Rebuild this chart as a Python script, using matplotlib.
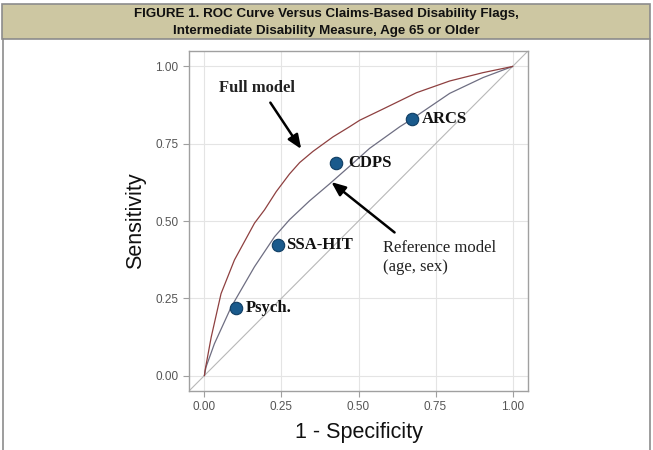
import matplotlib
matplotlib.use("Agg")
import matplotlib.pyplot as plt
from matplotlib.patches import Rectangle
from matplotlib.lines import Line2D

# ---- data ----
full_fpr = [0, 0.002, 0.022, 0.054, 0.0975, 0.1625, 0.195, 0.233, 0.276, 0.309, 0.352,
            0.417, 0.471, 0.504, 0.579, 0.688, 0.796, 0.904, 1.0]
full_tpr = [0, 0.016, 0.124, 0.265, 0.374, 0.493, 0.536, 0.595, 0.652, 0.689, 0.725,
            0.772, 0.805, 0.826, 0.862, 0.915, 0.953, 0.98, 1.0]
ref_fpr = [0, 0.005, 0.0325, 0.087, 0.1625, 0.2275, 0.276, 0.341, 0.406, 0.471, 0.536,
           0.634, 0.672, 0.796, 0.904, 1.0]
ref_tpr = [0, 0.027, 0.103, 0.222, 0.352, 0.449, 0.504, 0.565, 0.620, 0.677, 0.735,
           0.805, 0.829, 0.913, 0.964, 1.0]
flag_names = ["ARCS", "CDPS", "SSA-HIT", "Psych."]
flag_fpr = [0.672, 0.426, 0.238, 0.103]
flag_tpr = [0.829, 0.688, 0.421, 0.22]
ticks = [0.0, 0.25, 0.5, 0.75, 1.0]
tick_labels = ["0.00", "0.25", "0.50", "0.75", "1.00"]

W, H = 653, 450
fig = plt.figure(figsize=(W / 100, H / 100), dpi=100)
fig.patch.set_facecolor("white")

def fx(px):
    return px / W

def fy(py):
    return 1 - py / H

border = "#8c8c8c"
# header band
fig.patches.append(Rectangle((fx(2), fy(39)), fx(648), 35 / H, transform=fig.transFigure,
                             facecolor="#cdc7a2", edgecolor=border, linewidth=1.2, zorder=0))
# body side borders
fig.add_artist(Line2D([fx(2.5), fx(2.5)], [0, fy(39)], transform=fig.transFigure,
                      color=border, linewidth=1.2))
fig.add_artist(Line2D([fx(650), fx(650)], [0, fy(39)], transform=fig.transFigure,
                      color=border, linewidth=1.2))

fig.text(0.5, fy(14), "FIGURE 1. ROC Curve Versus Claims-Based Disability Flags,",
         ha="center", va="center", fontsize=9.6, fontweight="bold",
         family="Liberation Sans", color="#111111")
fig.text(0.5, fy(31), "Intermediate Disability Measure, Age 65 or Older",
         ha="center", va="center", fontsize=9.6, fontweight="bold",
         family="Liberation Sans", color="#111111")

ax = fig.add_axes([fx(189), fy(391), fx(528) - fx(189), (391 - 51) / H])
ax.set_xlim(-0.05, 1.05)
ax.set_ylim(-0.05, 1.05)
ax.set_facecolor("white")
for s in ax.spines.values():
    s.set_color("#a0a0a0")
    s.set_linewidth(1.0)
ax.set_xticks(ticks)
ax.set_yticks(ticks)
ax.set_xticklabels(tick_labels)
ax.set_yticklabels(tick_labels)
ax.tick_params(colors="#a0a0a0", labelcolor="#555555", labelsize=8.5, length=4, width=0.8)
for lab in ax.get_xticklabels() + ax.get_yticklabels():
    lab.set_family("Liberation Sans")
ax.grid(True, color="#e4e4e4", linewidth=0.8)
ax.set_axisbelow(True)

ax.plot([-0.05, 1.05], [-0.05, 1.05], color="#b8b8b8", linewidth=0.8, zorder=1)
ax.plot(ref_fpr, ref_tpr, color="#6e6e82", linewidth=0.9, zorder=2)
ax.plot(full_fpr, full_tpr, color="#8e4040", linewidth=0.9, zorder=2)

ax.scatter(flag_fpr, flag_tpr, s=80, color="#1a5a8c", edgecolor="#0f3d63",
           linewidth=0.8, zorder=4)
label_x = [0.704, 0.468, 0.264, 0.133]
for name, x0, y0 in zip(flag_names, label_x, flag_tpr):
    ax.text(x0, y0, name, ha="left", va="center", fontsize=12, fontweight="bold",
            family="Liberation Serif", color="#111111", zorder=5)

ax.text(0.046, 0.929, "Full model", ha="left", va="center", fontsize=12,
        fontweight="bold", family="Liberation Serif", color="#222222")
ax.text(0.578, 0.412, "Reference model", ha="left", va="center", fontsize=12,
        family="Liberation Serif", color="#222222")
ax.text(0.578, 0.35, "(age, sex)", ha="left", va="center", fontsize=12,
        family="Liberation Serif", color="#222222")

ax.annotate("", xy=(0.314, 0.733), xytext=(0.214, 0.883),
            arrowprops=dict(arrowstyle="-|>,head_length=0.6,head_width=0.25", color="black",
                            lw=1.8, mutation_scale=14, shrinkA=0, shrinkB=0))
ax.annotate("", xy=(0.412, 0.626), xytext=(0.617, 0.463),
            arrowprops=dict(arrowstyle="-|>,head_length=0.6,head_width=0.25", color="black",
                            lw=1.8, mutation_scale=14, shrinkA=0, shrinkB=0))

ax.set_xlabel("1 - Specificity", fontsize=15.5, family="Liberation Sans", color="#111111",
              labelpad=6)
ax.set_ylabel("Sensitivity", fontsize=15.5, family="Liberation Sans", color="#111111",
              labelpad=7)

fig.savefig("out.png", dpi=100, facecolor="white")
